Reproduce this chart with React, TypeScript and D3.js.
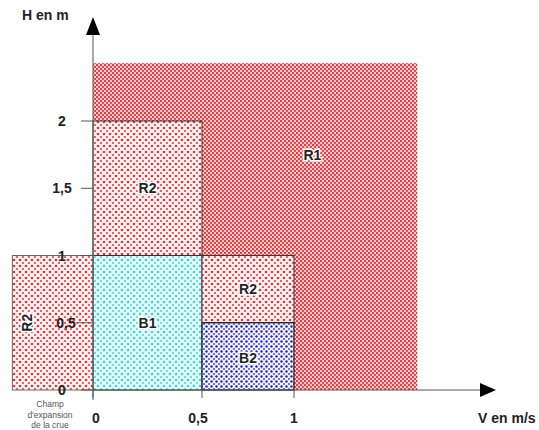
import React from 'react';
import * as d3 from 'd3';

// Zones of the H / V diagram (V in m/s, H in m)
const zones = [
  { id: 'R1', x0: 0, x1: 1.67, y0: 0, y1: 2.43, fill: 'r1', stroke: 'none' },
  { id: 'R2', x0: 0, x1: 0.5, y0: 1, y1: 2, fill: 'r2', stroke: '#333' },
  { id: 'B1', x0: 0, x1: 0.5, y0: 0, y1: 1, fill: 'b1', stroke: '#333' },
  { id: 'R2', x0: 0.5, x1: 1, y0: 0.5, y1: 1, fill: 'r2', stroke: '#333' },
  { id: 'B2', x0: 0.5, x1: 1, y0: 0, y1: 0.5, fill: 'b2', stroke: '#222' },
  { id: 'R2', x0: -0.37, x1: 0, y0: 0, y1: 1, fill: 'r2', stroke: '#666' },
];

// label anchor for each zone (same order as zones)
const labelPos = [
  [1.1, 1.75],
  [0.25, 1.5],
  [0.25, 0.5],
  [0.75, 0.75],
  [0.75, 0.24],
  [-0.3, 0.5],
];

const xTicks = [0, 0.5, 1];
const yTicks = [0, 0.5, 1, 1.5, 2];
const champLines = ['Champ', "d'expansion", 'de la crue'];

const fr = d3.formatLocale({ decimal: ',', thousands: ' ', grouping: [3], currency: ['', ' €'] });
const fmt = fr.format('~g');

const width = 539;
const height = 430;

// the original drawing is not evenly spaced on V, hence the piecewise scale
const x = d3.scaleLinear().domain([0, 0.5, 1]).range([93, 202, 294]);
const y = d3.scaleLinear().domain([0, 2]).range([390, 121]);

const fontFamily = 'Liberation Sans, Arial, sans-serif';

export default function App() {
  return (
    <svg
      width={width}
      height={height}
      style={{ position: 'absolute', left: 0, top: 0, background: '#fff' }}
      fontFamily={fontFamily}
    >
      <defs>
        <pattern id="r1" width={4} height={4} patternUnits="userSpaceOnUse">
          <rect width={4} height={4} fill="#fbd6d6" />
          <circle cx={1} cy={1} r={1.15} fill="#e8303a" />
          <circle cx={3} cy={3} r={1.15} fill="#ea4048" />
        </pattern>
        <pattern id="r2" width={6} height={6} patternUnits="userSpaceOnUse">
          <rect width={6} height={6} fill="#fff4f4" />
          <circle cx={2} cy={2} r={1.35} fill="#e8303a" />
          <circle cx={5} cy={5} r={1.2} fill="#ee5c62" />
        </pattern>
        <pattern id="b1" width={6} height={6} patternUnits="userSpaceOnUse">
          <rect width={6} height={6} fill="#ecfcfc" />
          <circle cx={2} cy={2} r={1.3} fill="#2cdcdc" />
          <circle cx={5} cy={5} r={1.2} fill="#55e6e6" />
        </pattern>
        <pattern id="b2" width={5} height={5} patternUnits="userSpaceOnUse">
          <rect width={5} height={5} fill="#f4f4fd" />
          <circle cx={1.5} cy={1.5} r={1.2} fill="#1c1cd8" />
          <circle cx={4} cy={4} r={1} fill="#4646e0" />
        </pattern>
      </defs>

      {zones.map((z, i) => (
        <rect
          key={i}
          x={x(z.x0)}
          y={y(z.y1)}
          width={x(z.x1) - x(z.x0)}
          height={y(z.y0) - y(z.y1)}
          fill={`url(#${z.fill})`}
          stroke={z.stroke}
          strokeWidth={z.fill === 'b2' ? 1.3 : 1}
        />
      ))}

      {/* axes */}
      <line x1={x(0)} x2={x(0)} y1={y(0) + 10} y2={34} stroke="#555" />
      <line x1={x(0)} x2={482} y1={y(0)} y2={y(0)} stroke="#555" />
      <path d={`M${x(0)},17 L${x(0) - 7},35 L${x(0) + 7},35 Z`} fill="#000" />
      <path d={`M496,${y(0)} L480,${y(0) - 7} L480,${y(0) + 7} Z`} fill="#000" />

      {yTicks.map((t) => (
        <g key={t}>
          <line x1={t === 0.5 ? 77 : 81} x2={x(0)} y1={y(t)} y2={y(t)} stroke="#555" />
          <text
            x={t === 0.5 ? 66 : 62}
            y={y(t)}
            dy="0.36em"
            textAnchor="middle"
            fontSize={14}
            fontWeight="bold"
            fill="#222"
          >
            {fmt(t)}
          </text>
        </g>
      ))}

      {xTicks.map((t) => (
        <g key={t}>
          <line x1={x(t)} x2={x(t)} y1={y(0)} y2={y(0) + 8} stroke="#555" />
          <text
            x={x(t) + (t === 0 ? 3 : t === 0.5 ? -4 : 0)}
            y={423}
            textAnchor="middle"
            fontSize={14}
            fontWeight="bold"
            fill="#222"
          >
            {fmt(t)}
          </text>
        </g>
      ))}

      <text x={22} y={20} fontSize={14} fontWeight="bold" fill="#222">H en m</text>
      <text x={478} y={423} fontSize={14} fontWeight="bold" fill="#222">V en m/s</text>

      {champLines.map((l, i) => (
        <text key={l} x={50} y={407 + i * 10.5} textAnchor="middle" fontSize={8.5} fill="#555">
          {l}
        </text>
      ))}

      {zones.map((z, i) => {
        const [lx, ly] = labelPos[i];
        const px = i === 5 ? 27 : x(lx);
        const py = y(ly);
        return (
          <text
            key={`l${i}`}
            x={px}
            y={py}
            dy="0.36em"
            textAnchor="middle"
            fontSize={14}
            fontWeight="bold"
            fill="#222"
            stroke="#fff"
            strokeWidth={3}
            paintOrder="stroke"
            transform={i === 5 ? `rotate(-90, ${px}, ${py})` : undefined}
          >
            {z.id}
          </text>
        );
      })}
    </svg>
  );
}
